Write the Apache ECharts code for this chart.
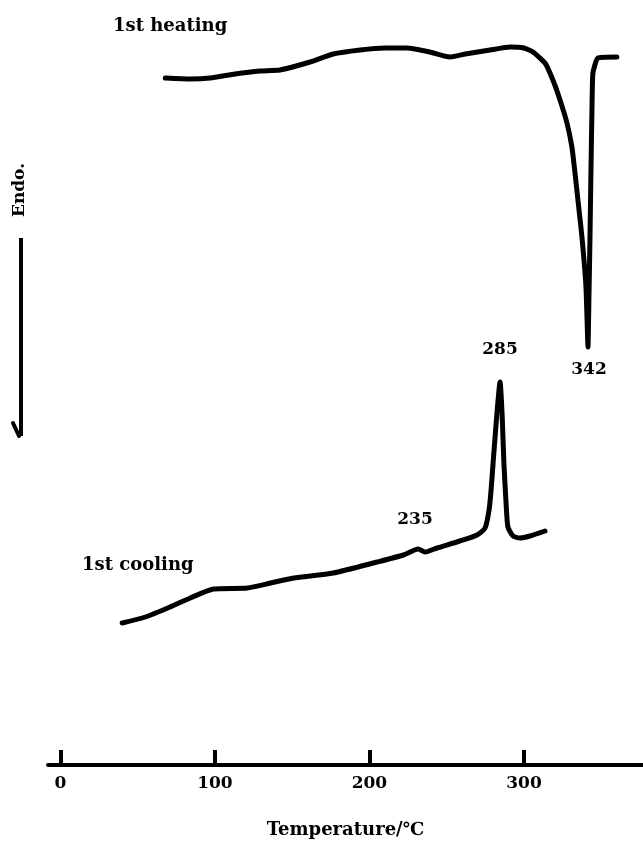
<!DOCTYPE html>
<html>
<head>
<meta charset="utf-8">
<script src="https://cdn.jsdelivr.net/npm/echarts@6/dist/echarts.min.js"></script>
<style>
html,body{margin:0;padding:0;background:#fff;}
#c{width:643px;height:843px;}
</style>
</head>
<body>
<div id="c"></div>
<script>
// Temperature (°C) and relative heat-flow signal (arbitrary units, endo downward)
var heatingT = [67.9,84,97,113,129,142,161.6,176.5,194,210,224.3,239,252,262,278,291,300,305.8,313.6,318.7,323.3,327.8,331,333,334.9,337.5,340.1,341.4,342,342.7,343.3,344,344.6,347.8,360.1];
var heatingV = [68.7,68.6,68.7,69.1,69.4,69.5,70.3,71.1,71.5,71.7,71.7,71.3,70.8,71.1,71.5,71.8,71.7,71.3,70.2,68.5,66.5,64.2,61.8,59.2,56.5,52.8,47.8,41.8,46.5,52.8,59.2,65.8,69.2,70.7,70.8];

var coolingT = [40,55,71,84,99,121,136,151,176.5,205,222,231.5,236,243.7,258.6,269.6,274.8,277.4,278.7,280,282.5,284.5,285.8,287,288.4,289.6,292.9,297.4,303.9,313.6];
var coolingV = [14.2,14.8,15.8,16.7,17.6,17.7,18.2,18.7,19.2,20.3,21,21.6,21.3,21.7,22.4,23,23.7,25.5,27.5,30.2,35.2,38.3,35.2,30.2,26.2,23.8,22.9,22.7,22.9,23.4];

var tickValues = [0,100,200,300];
var xName = 'Temperature/\u2103';
var labels = {heating:'1st heating', cooling:'1st cooling', endo:'Endo.', p285:'285', p342:'342', p235:'235'};

function zip(a,b){var r=[];for(var i=0;i<a.length;i++){r.push([a[i],b[i]]);}return r;}

var FONT = '"DejaVu Serif", "Liberation Serif", serif';
var chart = echarts.init(document.getElementById('c'));
var txt = {fill:'#000', font:'bold 18px ' + FONT};
var numTxt = {fill:'#000', font:'bold 17px ' + FONT};

chart.setOption({
  backgroundColor:'#fff',
  animation:false,
  grid:{left:48,right:0,top:0,bottom:78,containLabel:false,outerBoundsMode:'none'},
  xAxis:{
    type:'value', min:-8, max:377,
    splitLine:{show:false},
    axisLine:{show:true,lineStyle:{color:'#000',width:4}},
    axisTick:{show:true,inside:true,length:15,customValues:tickValues,lineStyle:{color:'#000',width:4}},
    axisLabel:{show:true,customValues:tickValues,margin:10,color:'#000',fontWeight:'bold',fontSize:17,fontFamily:FONT},
    name:xName, nameLocation:'middle', nameGap:56,
    nameTextStyle:{color:'#000',fontWeight:'bold',fontSize:18,fontFamily:FONT}
  },
  yAxis:{type:'value',min:0,max:76.5,show:false},
  series:[
    {type:'line',data:zip(heatingT,heatingV),showSymbol:false,smooth:0.15,
     lineStyle:{color:'#000',width:5,cap:'round',join:'round'}},
    {type:'line',data:zip(coolingT,coolingV),showSymbol:false,smooth:0.2,
     lineStyle:{color:'#000',width:5,cap:'round',join:'round'}}
  ],
  graphic:[
    {type:'text',left:113,top:17,style:Object.assign({text:labels.heating},txt)},
    {type:'text',left:82,top:556,style:Object.assign({text:labels.cooling},txt)},
    {type:'text',x:500,y:350,style:Object.assign({text:labels.p285,align:'center',verticalAlign:'middle'},numTxt)},
    {type:'text',x:589,y:370,style:Object.assign({text:labels.p342,align:'center',verticalAlign:'middle'},numTxt)},
    {type:'text',x:415,y:520,style:Object.assign({text:labels.p235,align:'center',verticalAlign:'middle'},numTxt)},
    {type:'text',x:20,y:190,rotation:Math.PI/2,style:Object.assign({text:labels.endo,align:'center',verticalAlign:'middle'},{fill:'#000',font:'bold 17px '+FONT})},
    {type:'line',shape:{x1:21,y1:238,x2:21,y2:436},style:{stroke:'#000',lineWidth:4}},
    {type:'polyline',shape:{points:[[13,423],[19,436]]},style:{stroke:'#000',lineWidth:4,lineCap:'round'}}
  ]
});
</script>
</body>
</html>
